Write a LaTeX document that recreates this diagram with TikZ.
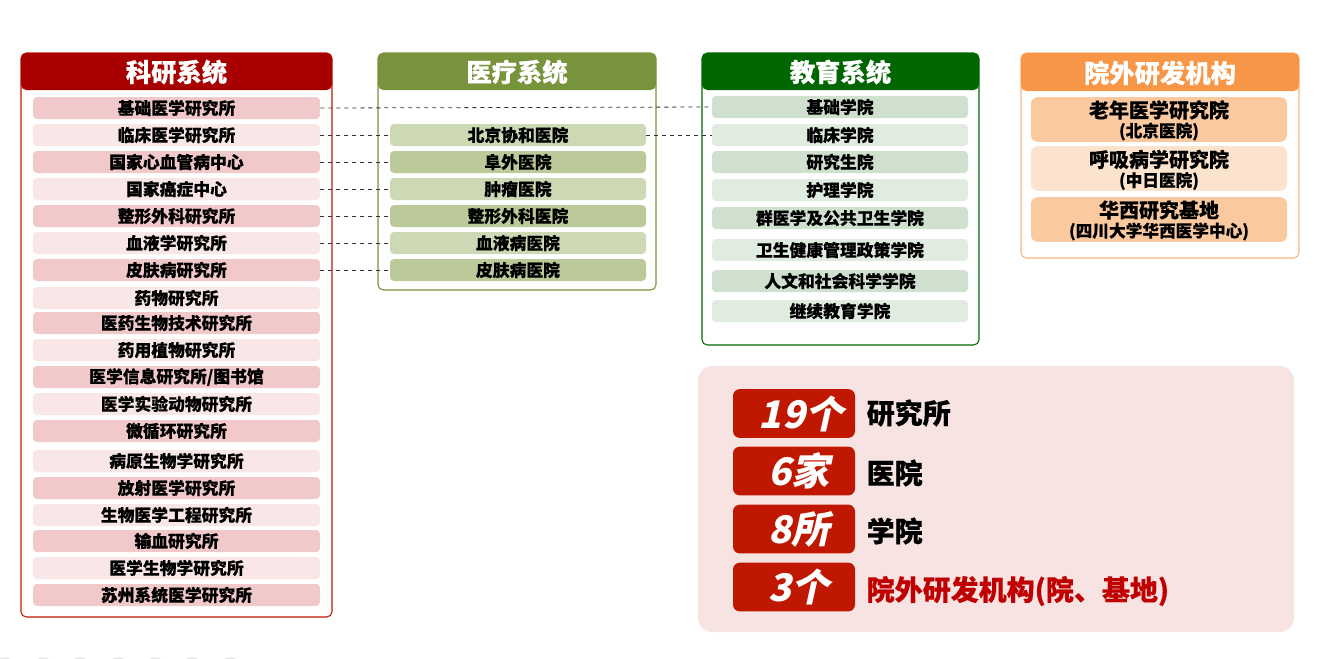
\documentclass[tikz,border=0pt]{standalone}
\usepackage{fontspec}
\setmainfont{Noto Sans CJK SC}[BoldFeatures={FakeBold=0.4}]
\newfontfamily\cjkb{Noto Sans CJK SC}[FakeSlant=0.22]
\usetikzlibrary{positioning}
\definecolor{kyred}{HTML}{A80000}
\definecolor{kyrowA}{HTML}{F2C9CB}
\definecolor{kyrowB}{HTML}{F9E7E7}
\definecolor{ylgreen}{HTML}{77933C}
\definecolor{ylrowA}{HTML}{CDD9B5}
\definecolor{ylrowB}{HTML}{BCCA9A}
\definecolor{jygreen}{HTML}{006600}
\definecolor{jyrowA}{HTML}{CFE0CF}
\definecolor{jyrowB}{HTML}{E1ECE1}
\definecolor{yworange}{HTML}{F79646}
\definecolor{ywrowA}{HTML}{FAC9A0}
\definecolor{ywrowB}{HTML}{FCE3CE}
\definecolor{sumbg}{HTML}{F7E3E1}
\definecolor{badge}{HTML}{C01800}
\definecolor{darkred}{HTML}{C00000}
\tikzset{
  x=0.75pt, y=-0.75pt,
  panel/.style={draw=#1, line width=0.8pt, rounded corners=4pt},
  header/.style={fill=#1, rounded corners=4pt},
  headtext/.style={text=white, font=\bfseries\fontsize{19}{22}\selectfont},
  rowbox/.style={fill=#1, rounded corners=3pt, minimum height=16.5pt, inner sep=0pt,
    font=\bfseries\fontsize{12.6}{14}\selectfont},
  kyrow/.style={rowbox=#1, minimum width=215.25pt},
  ylrow/.style={rowbox=#1, minimum width=192pt},
  jyrow/.style={rowbox=#1, minimum width=192pt},
  ywrow/.style={fill=#1, rounded corners=5pt, minimum width=192pt, minimum height=33.5pt,
    inner sep=0pt},
  ywtitle/.style={font=\bfseries\fontsize{15}{17}\selectfont, inner sep=0pt},
  ywsub/.style={font=\bfseries\fontsize{12.5}{14}\selectfont, inner sep=0pt},
  link/.style={dashed, line width=0.6pt, black!80},
  badgebox/.style={fill=badge, rounded corners=5pt, minimum width=91.5pt, minimum height=36.5pt,
    inner sep=0pt},
  badgetext/.style={text=white, inner sep=0pt, font=\cjkb\bfseries\fontsize{28.5}{31}\selectfont},
  sumtext/.style={anchor=west, font=\bfseries\fontsize{21}{25}\selectfont},
}
\begin{document}
\begin{tikzpicture}
\fill[white] (0,0) rectangle (1332,658);
\clip (0,0) rectangle (1332,658);
\useasboundingbox (0,0) rectangle (1332,658);
% faint circles at bottom
\foreach \cx in {5,43,80,118,155,192,230}
  \draw[black!12, line width=0.8pt] (\cx,670) circle (12);

% ===== Panel 1: 科研系统 =====
\draw[panel=badge] (21,53) rectangle (332,617);
\fill[header=kyred] (21,53) rectangle (332,90);
\node[headtext] (kyh) at (176.5,72) {科研系统};
\node[kyrow=kyrowA] (k1) at (176.5,108) {基础医学研究所};
\node[kyrow=kyrowB] (k2) at (176.5,135) {临床医学研究所};
\node[kyrow=kyrowA] (k3) at (176.5,162) {国家心血管病中心};
\node[kyrow=kyrowB] (k4) at (176.5,189) {国家癌症中心};
\node[kyrow=kyrowA] (k5) at (176.5,216) {整形外科研究所};
\node[kyrow=kyrowB] (k6) at (176.5,243) {血液学研究所};
\node[kyrow=kyrowA] (k7) at (176.5,270) {皮肤病研究所};
\node[kyrow=kyrowB] (k8) at (176.5,298) {药物研究所};
\node[kyrow=kyrowA] (k9) at (176.5,323) {医药生物技术研究所};
\node[kyrow=kyrowB] (k10) at (176.5,350) {药用植物研究所};
\node[kyrow=kyrowA] (k11) at (176.5,377) {医学信息研究所/图书馆};
\node[kyrow=kyrowB] (k12) at (176.5,404) {医学实验动物研究所};
\node[kyrow=kyrowA] (k13) at (176.5,431) {微循环研究所};
\node[kyrow=kyrowB] (k14) at (176.5,461) {病原生物学研究所};
\node[kyrow=kyrowA] (k15) at (176.5,488) {放射医学研究所};
\node[kyrow=kyrowB] (k16) at (176.5,515) {生物医学工程研究所};
\node[kyrow=kyrowA] (k17) at (176.5,541) {输血研究所};
\node[kyrow=kyrowB] (k18) at (176.5,568) {医学生物学研究所};
\node[kyrow=kyrowA] (k19) at (176.5,595) {苏州系统医学研究所};

% ===== Panel 2: 医疗系统 =====
\draw[panel=ylgreen] (378,53) rectangle (656,290);
\fill[header=ylgreen] (378,53) rectangle (656,90);
\node[headtext] (ylh) at (517,72) {医疗系统};
\node[ylrow=ylrowA] (y1) at (518,135) {北京协和医院};
\node[ylrow=ylrowB] (y2) at (518,162) {阜外医院};
\node[ylrow=ylrowA] (y3) at (518,189) {肿瘤医院};
\node[ylrow=ylrowB] (y4) at (518,216) {整形外科医院};
\node[ylrow=ylrowA] (y5) at (518,243) {血液病医院};
\node[ylrow=ylrowB] (y6) at (518,270) {皮肤病医院};

% ===== Panel 3: 教育系统 =====
\draw[panel=jygreen] (702,53) rectangle (979,345);
\fill[header=jygreen] (702,53) rectangle (979,90);
\node[headtext] (jyh) at (840.5,72) {教育系统};
\node[jyrow=jyrowA] (j1) at (840,107) {基础学院};
\node[jyrow=jyrowB] (j2) at (840,135) {临床学院};
\node[jyrow=jyrowA] (j3) at (840,162) {研究生院};
\node[jyrow=jyrowB] (j4) at (840,190) {护理学院};
\node[jyrow=jyrowA] (j5) at (840,218) {群医学及公共卫生学院};
\node[jyrow=jyrowB] (j6) at (840,250) {卫生健康管理政策学院};
\node[jyrow=jyrowA] (j7) at (840,281) {人文和社会科学学院};
\node[jyrow=jyrowB] (j8) at (840,311) {继续教育学院};

% ===== Panel 4: 院外研发机构 =====
\draw[panel=yworange!70] (1021,53) rectangle (1299,258);
\fill[header=yworange] (1021,53) rectangle (1299,91);
\node[headtext] (ywh) at (1160,73) {院外研发机构};
\node[ywrow=ywrowA] (w1) at (1159,119.5) {};
\node[ywrow=ywrowB] (w2) at (1159,168.5) {};
\node[ywrow=ywrowA] (w3) at (1159,219.5) {};
\node[ywtitle] (w1t) at (1159,110) {老年医学研究院};
\node[ywsub] (w1s) at (1159,131.5) {(北京医院)};
\node[ywtitle] (w2t) at (1159,159.5) {呼吸病学研究院};
\node[ywsub] (w2s) at (1159,181) {(中日医院)};
\node[ywtitle] (w3t) at (1159,210) {华西研究基地};
\node[ywsub] (w3s) at (1159,231.5) {(四川大学华西医学中心)};

% ===== dashed links =====
\draw[link] (k1.east) -- (j1.west);
\draw[link] (k2.east) -- (y1.west);
\draw[link] (k3.east) -- (y2.west);
\draw[link] (k4.east) -- (y3.west);
\draw[link] (k5.east) -- (y4.west);
\draw[link] (k6.east) -- (y5.west);
\draw[link] (k7.east) -- (y6.west);
\draw[link] (y1.east) -- (j2.west);

% ===== summary =====
\fill[sumbg, rounded corners=11pt] (698,366) rectangle (1294,632);
\node[badgebox] (b1) at (794,413.5) {};
\node[badgebox] (b2) at (794,471) {};
\node[badgebox] (b3) at (794,529) {};
\node[badgebox] (b4) at (794,587) {};
\node[badgetext] (b1t) at (801,413.5) {19个};
\node[badgetext] (b2t) at (799,471) {6家};
\node[badgetext] (b3t) at (799,529) {8所};
\node[badgetext] (b4t) at (799,587) {3个};
\node[sumtext] (s1) at (862,413) {研究所};
\node[sumtext] (s2) at (862,473) {医院};
\node[sumtext] (s3) at (862,531) {学院};
\node[sumtext, text=darkred] (s4) at (862,591) {院外研发机构(院、基地)};
\end{tikzpicture}
\end{document}
